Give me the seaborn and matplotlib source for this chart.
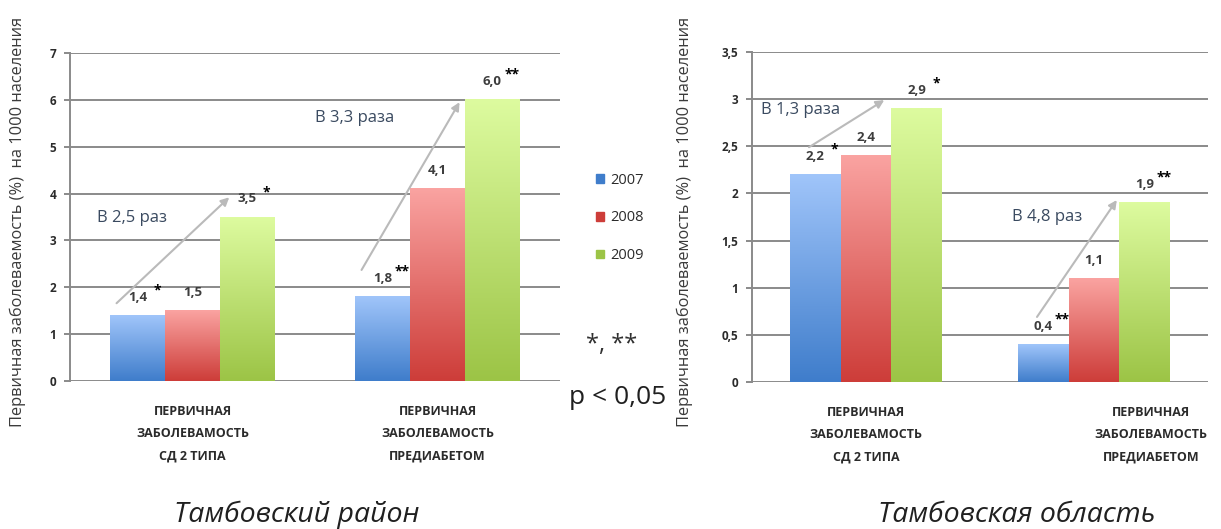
import numpy as np
import pandas as pd
import matplotlib
matplotlib.use("Agg")
import matplotlib.pyplot as plt
import matplotlib.transforms as mtransforms
from matplotlib.colors import LinearSegmentedColormap
import seaborn as sns

# ---- data -------------------------------------------------------------
categories = ["ПЕРВИЧНАЯ\nЗАБОЛЕВАМОСТЬ\nСД 2 ТИПА",
              "ПЕРВИЧНАЯ\nЗАБОЛЕВАМОСТЬ\nПРЕДИАБЕТОМ"]
years = ["2007", "2008", "2009"]

district_values = {"2007": [1.4, 1.8], "2008": [1.5, 4.1], "2009": [3.5, 6.0]}
region_values = {"2007": [2.2, 0.4], "2008": [2.4, 1.1], "2009": [2.9, 1.9]}

district_marks = {"2007": ["*", "**"], "2008": ["", ""], "2009": ["*", "**"]}
region_marks = {"2007": ["*", "**"], "2008": ["", ""], "2009": ["*", "**"]}

district_ratio = ["В 2,5 раз", "В 3,3 раза"]
region_ratio = ["В 1,3 раза", "В 4,8 раз"]

district_title = "Тамбовский район"
region_title = "Тамбовская область"
y_label = "Первичная заболеваемость (%)  на 1000 населения"
significance = ["*, **", "p < 0,05"]

# ---- styling ----------------------------------------------------------
sns.set_style("white")
plt.rcParams["font.family"] = ["Open Sans", "DejaVu Sans"]

mid_colors = {"2007": "#6a9ee0", "2008": "#e56a68", "2009": "#bde176"}
grad_colors = {"2007": ("#3f7dcb", "#a0c5fa"),
               "2008": ("#cd3d39", "#faa3a1"),
               "2009": ("#9cc446", "#ddfb9f")}
text_dark = "#2b2b2b"
grid_col = "#8a8a8a"


def to_frame(values):
    rows = []
    for yr in years:
        for cat, v in zip(categories, values[yr]):
            rows.append({"cat": cat, "year": yr, "value": v})
    return pd.DataFrame(rows)


fig = plt.figure(figsize=(12.21, 5.29), dpi=100)
ax_l = fig.add_axes([70 / 1221, 1 - 381 / 529, 490 / 1221, 328 / 529])
ax_r = fig.add_axes([752 / 1221, 1 - 382 / 529, 456 / 1221, 330 / 529])


def draw_panel(ax, values, marks, ymax, ystep, tick_fmt, arrows, ratio_pos):
    df = to_frame(values)
    sns.barplot(data=df, x="cat", y="value", hue="year", order=categories,
                hue_order=years, palette=mid_colors, width=0.67,
                errorbar=None, ax=ax, legend=False, saturation=1,
                edgecolor="none", zorder=3)
    ax.set_xlim(-0.5, 1.5)
    ax.set_ylim(0, ymax)

    # vertical gradient inside every bar
    bars = [p for p in ax.patches]
    n = len(categories)
    for i, p in enumerate(bars):
        yr = years[i // n]
        cmap = LinearSegmentedColormap.from_list(yr, grad_colors[yr])
        x0, w, h = p.get_x(), p.get_width(), p.get_height()
        grad = np.linspace(0, 1, 128).reshape(-1, 1)
        ax.imshow(grad, cmap=cmap, origin="lower", aspect="auto",
                  extent=[x0, x0 + w, 0, h], zorder=4, interpolation="bilinear")
        p.set_visible(False)
        # value label with significance mark
        ci = i % n
        v = values[yr][ci]
        ax.annotate(f"{v:.1f}".replace(".", ","), (x0 + w / 2, h),
                    xytext=(0, 13), textcoords="offset points",
                    ha="center", va="center", fontsize=9.5, fontweight="bold",
                    color="#3d3d3d", zorder=6)
        m = marks[yr][ci]
        if m:
            ax.annotate(m, (x0 + w / 2, h), xytext=(14, 18),
                        textcoords="offset points", ha="center", va="center",
                        fontsize=10, fontweight="bold", color="black", zorder=6)
    ax.set_xlim(-0.5, 1.5)
    ax.set_ylim(0, ymax)

    # growth arrows and ratio captions
    for (start, end), (tx, ty), txt in zip(arrows, ratio_pos[0], ratio_pos[1]):
        ax.annotate("", xy=end, xytext=start,
                    arrowprops=dict(arrowstyle="-|>", color="#bababa", lw=1.5,
                                    mutation_scale=12, shrinkA=0, shrinkB=0),
                    zorder=7)
        ax.text(tx, ty, txt, fontsize=12, color="#3a4a60", ha="left",
                va="center", zorder=7)

    ticks = np.arange(0, ymax + 1e-9, ystep)
    ax.set_yticks(ticks)
    ax.set_yticklabels([tick_fmt(t) for t in ticks], fontsize=8.5,
                       fontweight="bold", color=text_dark)
    ax.yaxis.grid(True, color=grid_col, lw=1.4, zorder=0)
    ax.set_axisbelow(True)
    ax.tick_params(axis="y", length=4, width=1.4, color=grid_col, pad=6,
                   left=True)
    ax.tick_params(axis="x", length=0, pad=17)
    for s in ["top", "right", "bottom"]:
        ax.spines[s].set_visible(False)
    ax.spines["left"].set_color(grid_col)
    ax.spines["left"].set_linewidth(1.4)
    ax.set_xlabel("")
    ax.set_ylabel("")
    ax.set_xticks(range(len(categories)))
    ax.set_xticklabels(categories, fontsize=9, fontweight="bold",
                       color=text_dark, linespacing=1.95, va="top")


def fmt_int(t):
    return f"{t:.0f}"


def fmt_half(t):
    return f"{t:g}".replace(".", ",")


draw_panel(ax_l, district_values, district_marks, 7, 1, fmt_int,
           arrows=[((-0.31, 1.66), (0.15, 3.92)), ((0.69, 2.37), (1.09, 5.95))],
           ratio_pos=([(-0.39, 3.48), (0.50, 5.61)], district_ratio))
draw_panel(ax_r, region_values, region_marks, 3.5, 0.5, fmt_half,
           arrows=[((-0.25, 2.49), (0.08, 2.99)), ((0.75, 0.69), (1.10, 1.93))],
           ratio_pos=([(-0.46, 2.88), (0.64, 1.75)], region_ratio))

# the second category caption of the right panel sits further right
lab = ax_r.get_xticklabels()[1]
lab.set_transform(lab.get_transform() +
                  mtransforms.ScaledTranslation(0.57, 0, fig.dpi_scale_trans))

# legend between the panels
handles = [plt.Rectangle((0, 0), 1, 1, color=grad_colors[y][0]) for y in years]
fig.legend(handles, years, loc="center left",
           bbox_to_anchor=(583 / 1221, 1 - 218 / 529), frameon=False,
           fontsize=10.5, handlelength=0.55, handleheight=0.55,
           handletextpad=0.4, labelspacing=1.55, labelcolor=text_dark)

# axis titles (rotated)
fig.text(18 / 1221, 1 - 222 / 529, y_label, rotation=90, ha="center",
         va="center", fontsize=11.8, color="#3a3a3a")
fig.text(685 / 1221, 1 - 222 / 529, y_label, rotation=90, ha="center",
         va="center", fontsize=11.8, color="#3a3a3a")

# significance note
fig.text(612 / 1221, 1 - 345 / 529, significance[0], ha="center", va="center",
         fontsize=17, color="#303030")
fig.text(618 / 1221, 1 - 397 / 529, significance[1], ha="center", va="center",
         fontsize=19, color="#202020")

# panel captions
fig.text(297 / 1221, 1 - 515 / 529, district_title, ha="center", va="center",
         fontsize=20.5, style="italic", color="#202020")
fig.text(1017 / 1221, 1 - 515 / 529, region_title, ha="center", va="center",
         fontsize=20.5, style="italic", color="#202020")

fig.savefig("out.png", dpi=100)
